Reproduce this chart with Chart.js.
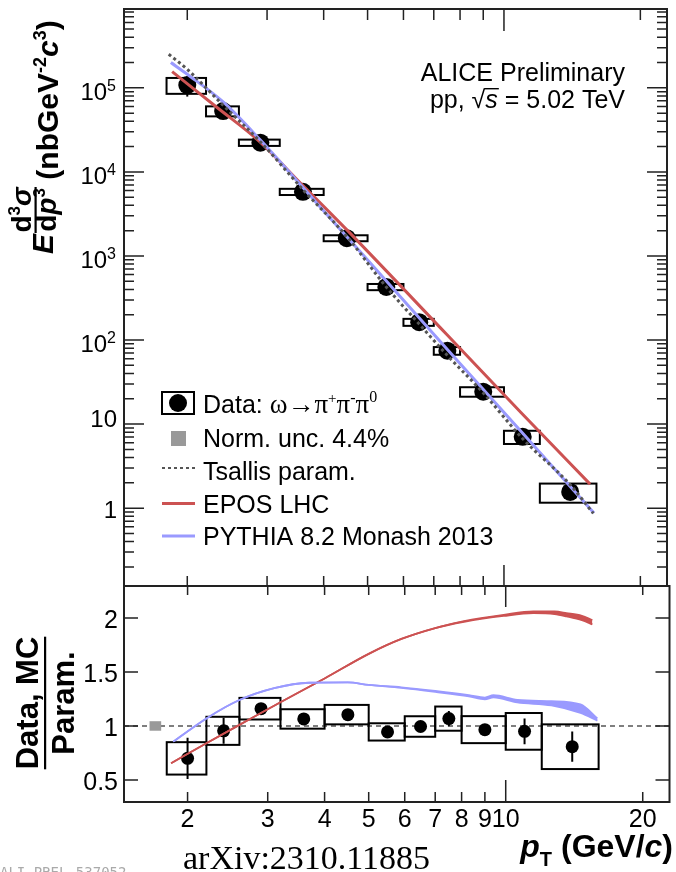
<!DOCTYPE html>
<html>
<head>
<meta charset="utf-8">
<title>omega pT spectrum, pp 5.02 TeV</title>
<script src="https://cdn.jsdelivr.net/npm/chart.js@4.4.1/dist/chart.umd.min.js"></script>
<style>
  html, body { margin: 0; padding: 0; background: #fff; }
  #wrap { position: relative; width: 676px; height: 872px; overflow: hidden; background: #fff; }
  #wrap canvas { position: absolute; left: 0; top: 0; }
</style>
</head>
<body>
<div id="wrap">
  <canvas id="spectrum" width="676" height="872"></canvas>
  <canvas id="ratio" width="676" height="872"></canvas>
</div>
<script>
// pT bins of the omega -> pi+ pi- pi0 measurement (GeV/c)
const binLo = [1.8, 2.2, 2.6, 3.2, 4.0, 5.0, 6.0, 7.0, 8.0, 10.0, 12.0];
const binHi = [2.2, 2.6, 3.2, 4.0, 5.0, 6.0, 7.0, 8.0, 10.0, 12.0, 16.0];
const ptCenter = [2.0, 2.4, 2.9, 3.6, 4.5, 5.5, 6.5, 7.5, 9.0, 11.0, 14.0];

// invariant cross section (nb GeV^-2 c^3)
const xsec = [1.08e5, 5.3e4, 2.23e4, 5.8e3, 1.63e3, 428, 163, 74.6, 24.3, 7.06, 1.56];

// data / Tsallis and its uncertainties (absolute, on the ratio)
const ratio = [0.70, 0.955, 1.16, 1.065, 1.105, 0.945, 0.995, 1.068, 0.966, 0.95, 0.808];
const ratioSys = [0.15, 0.13, 0.10, 0.09, 0.09, 0.08, 0.095, 0.112, 0.125, 0.17, 0.207];
const ratioStat = [0.19, 0.12, 0.05, 0.045, 0.045, 0.05, 0.05, 0.07, 0.05, 0.12, 0.14];
const normUnc = 0.044;

// Tsallis parametrisation
const tsallisPt = [1.82, 2.0, 2.4, 2.9, 3.6, 4.5, 5.5, 6.5, 7.5, 9.0, 11.0, 14.0, 15.75];
const tsallisVal = [2.51e5, 1.66e5, 6.2e4, 2.28e4, 6.15e3, 1.7e3, 427, 155, 65.6, 23.5, 6.69, 1.9, 0.865];

// generators, cross section
const eposPt = [1.852, 2.316, 2.873, 3.572, 4.518, 7.47, 10.9, 15.49];
const eposVal = [1.56e5, 5.96e4, 2.35e4, 7.18e3, 2.0e3, 117, 13.7, 1.93];
const pythiaPt = [1.84, 2.0, 2.4, 2.9, 3.6, 4.5, 5.5, 7.5, 11.0, 15.8];
const pythiaVal = [2.0e5, 1.45e5, 6.8e4, 2.39e4, 6.51e3, 1.69e3, 504, 77.1, 7.76, 0.873];

// generators / Tsallis (central value and half width of the MC band)
const eposRatioPt = [1.84, 2.2, 2.6, 3.2, 4.0, 5.0, 5.9, 7.0, 8.1, 9.9, 11.5, 12.8, 13.6, 14.7, 15.5];
const eposRatioMid = [0.655, 0.84, 1.01, 1.22, 1.44, 1.668, 1.806, 1.907, 1.968, 2.024, 2.052, 2.048, 2.03, 2.0, 1.96];
const eposRatioHalf = [0, 0, 0, 0, 0, 0, 0, 0, 0.003, 0.005, 0.008, 0.012, 0.015, 0.02, 0.02];
const pythiaRatioPt = [1.86, 2.2, 2.6, 3.1, 3.7, 4.5, 5.0, 5.9, 7.0, 8.3, 9.0, 9.4, 10.6, 12.6, 14.6, 15.9];
const pythiaRatioMid = [0.855, 1.07, 1.24, 1.35, 1.40, 1.403, 1.38, 1.355, 1.32, 1.28, 1.255, 1.275, 1.23, 1.21, 1.16, 1.06];
const pythiaRatioHalf = [0, 0, 0, 0, 0, 0, 0, 0.003, 0.005, 0.006, 0.008, 0.01, 0.012, 0.02, 0.04, 0.01];

// axes
const xTicks = [2, 3, 4, 5, 6, 7, 8, 9, 10, 20];
const xTickLabels = ['2', '3', '4', '5', '6', '7', '8', '9', '10', '20'];
const yDecades = [0, 1, 2, 3, 4, 5];
const ratioTicks = [0.5, 1, 1.5, 2];
const ratioTickLabels = ['0.5', '1', '1.5', '2'];

const SANS = '"Liberation Sans", Arial, sans-serif';
const SERIF = '"Liberation Serif", "Times New Roman", serif';
const RED = '#cc5252';
const BLUE = '#9a9aff';
const GREY = '#555';

const pts = (xs, ys) => xs.map((x, i) => ({ x, y: ys[i] }));

// draws a run of differently styled pieces: [text, font, dy]
function richText(ctx, parts, x, y, align) {
  let w = 0;
  for (const p of parts) { ctx.font = p[1]; w += ctx.measureText(p[0]).width; }
  let cx = align === 'right' ? x - w : align === 'center' ? x - w / 2 : x;
  ctx.textAlign = 'left';
  for (const p of parts) {
    ctx.font = p[1];
    ctx.fillText(p[0], cx, y + (p[2] || 0));
    cx += ctx.measureText(p[0]).width;
  }
  return w;
}

function drawFrame(chart, cfg) {
  const { ctx, chartArea: a, scales: { x, y } } = chart;
  ctx.save();
  ctx.strokeStyle = '#222';
  ctx.lineWidth = 1.5;
  ctx.beginPath();
  for (const t of xTicks) {
    const px = x.getPixelForValue(t);
    const big = t === 10;
    ctx.moveTo(px, a.top); ctx.lineTo(px, a.top + (big ? cfg.topLong : cfg.topShort));
    ctx.moveTo(px, a.bottom); ctx.lineTo(px, a.bottom - (big ? cfg.botLong : cfg.botShort));
  }
  for (const t of cfg.yMajor) {
    const py = y.getPixelForValue(t);
    ctx.moveTo(a.left, py); ctx.lineTo(a.left + cfg.yMajorLen, py);
    ctx.moveTo(a.right, py); ctx.lineTo(a.right - cfg.yMajorLen, py);
  }
  for (const t of cfg.yMinor) {
    const py = y.getPixelForValue(t);
    ctx.moveTo(a.left, py); ctx.lineTo(a.left + cfg.yMinorLen, py);
    ctx.moveTo(a.right, py); ctx.lineTo(a.right - cfg.yMinorLen, py);
  }
  ctx.stroke();
  ctx.lineWidth = 2;
  ctx.strokeRect(a.left, a.top, a.right - a.left, a.bottom - a.top);
  ctx.restore();
}

// syst boxes and stat bars, sizes relative to the value
function drawBoxes(chart, values, sysRel, statRel) {
  const { ctx, chartArea: a, scales: { x, y } } = chart;
  ctx.save();
  ctx.beginPath();
  ctx.rect(a.left, a.top, a.right - a.left, a.bottom - a.top);
  ctx.clip();
  ctx.strokeStyle = '#000';
  ctx.lineWidth = 2;
  for (let i = 0; i < ptCenter.length; i++) {
    const x0 = x.getPixelForValue(binLo[i]);
    const x1 = x.getPixelForValue(binHi[i]);
    const y0 = y.getPixelForValue(values[i] * (1 + sysRel[i]));
    const y1 = y.getPixelForValue(values[i] * (1 - sysRel[i]));
    ctx.strokeRect(x0, y0, x1 - x0, y1 - y0);
    const xc = x.getPixelForValue(ptCenter[i]);
    ctx.beginPath();
    ctx.moveTo(xc, y.getPixelForValue(values[i] * (1 + statRel[i])));
    ctx.lineTo(xc, y.getPixelForValue(values[i] * (1 - statRel[i])));
    ctx.stroke();
  }
  ctx.restore();
}

const sysRel = ratioSys.map((s, i) => s / ratio[i]);
const statRel = ratioStat.map((s, i) => s / ratio[i]);

// ---------- upper pad: cross section ----------
const yMinorSpec = [];
for (let k = -1; k <= 5; k++) {
  for (let m = 2; m <= 9; m++) {
    const v = m * Math.pow(10, k);
    if (v > 0.1185 && v < 8.67e5) yMinorSpec.push(v);
  }
}

const spectrumDecor = {
  id: 'spectrumDecor',
  beforeDatasetsDraw(chart) {
    drawBoxes(chart, xsec, sysRel, statRel);
  },
  afterDraw(chart) {
    const { ctx, scales: { y } } = chart;
    drawFrame(chart, {
      topShort: 11, topLong: 22, botShort: 10, botLong: 21,
      yMajor: yDecades.map(k => Math.pow(10, k)), yMajorLen: 20,
      yMinor: yMinorSpec, yMinorLen: 10
    });

    ctx.save();
    ctx.fillStyle = '#000';
    ctx.textBaseline = 'alphabetic';

    // decade labels
    for (const k of yDecades) {
      const py = y.getPixelForValue(Math.pow(10, k));
      if (k === 0) richText(ctx, [['1', '24px ' + SANS]], 117, py + 10, 'right');
      else if (k === 1) richText(ctx, [['10', '24px ' + SANS]], 117, py + 3, 'right');
      else richText(ctx, [['10', '24px ' + SANS], [String(k), '16px ' + SANS, -9]], 116, py + 12, 'right');
    }

    // y title, rotated
    ctx.save();
    ctx.rotate(-Math.PI / 2);
    richText(ctx, [['E', 'italic bold 30px ' + SANS]], -254, 53, 'left');
    richText(ctx, [['d', 'bold 28px ' + SANS], ['3', 'bold 17px ' + SANS, -11], ['\u03c3', 'italic bold 28px ' + SANS]], -210, 31, 'center');
    ctx.fillRect(-233, 34.5, 46, 2.2);
    richText(ctx, [['d', 'bold 28px ' + SANS], ['p', 'italic bold 28px ' + SANS], ['3', 'bold 17px ' + SANS, -11]], -210, 56, 'center');
    richText(ctx, [
      [' (nbGeV', 'bold 30px ' + SANS],
      ['-2', 'bold 18px ' + SANS, -12],
      ['c', 'italic bold 30px ' + SANS],
      ['3', 'bold 18px ' + SANS, -12],
      [')', 'bold 30px ' + SANS]
    ], -188, 58, 'left');
    ctx.restore();

    // header
    richText(ctx, [['ALICE Preliminary', '25px ' + SANS]], 625, 81, 'right');
    const hdr = [['pp, ', '25px ' + SANS], ['\u221a', '25px ' + SANS], ['s', 'italic 25px ' + SANS], [' = 5.02 TeV', '25px ' + SANS]];
    const w = richText(ctx, hdr, 625, 108, 'right');
    ctx.font = '25px ' + SANS;
    const sx = 625 - w + ctx.measureText('pp, \u221a').width - 1;
    ctx.font = 'italic 25px ' + SANS;
    const sw = ctx.measureText('s').width + 2;
    ctx.fillRect(sx, 88, sw, 1.4);

    // legend
    ctx.strokeStyle = '#000';
    ctx.lineWidth = 2;
    ctx.strokeRect(162, 392, 32, 22);
    ctx.beginPath(); ctx.arc(178, 403, 9, 0, Math.PI * 2); ctx.fill();
    richText(ctx, [
      ['Data: ', '25px ' + SANS],
      ['\u03c9\u2192\u03c0', '27px ' + SERIF],
      ['+', '15px ' + SERIF, -10],
      ['\u03c0', '27px ' + SERIF],
      ['-', '16px ' + SERIF, -10],
      ['\u03c0', '27px ' + SERIF],
      ['0', '16px ' + SERIF, -11]
    ], 203, 413, 'left');

    ctx.fillStyle = '#999';
    ctx.fillRect(171, 431, 15, 15);
    ctx.fillStyle = '#000';
    richText(ctx, [['Norm. unc. 4.4%', '25px ' + SANS]], 203, 447, 'left');

    ctx.lineWidth = 2;
    ctx.strokeStyle = GREY;
    ctx.setLineDash([3, 3]);
    ctx.beginPath(); ctx.moveTo(162, 468); ctx.lineTo(195, 468); ctx.stroke();
    ctx.setLineDash([]);
    richText(ctx, [['Tsallis param.', '25px ' + SANS]], 203, 480, 'left');

    ctx.lineWidth = 3;
    ctx.strokeStyle = RED;
    ctx.beginPath(); ctx.moveTo(162, 503.5); ctx.lineTo(195, 503.5); ctx.stroke();
    richText(ctx, [['EPOS LHC', '25px ' + SANS]], 203, 513, 'left');

    ctx.strokeStyle = BLUE;
    ctx.beginPath(); ctx.moveTo(162, 536); ctx.lineTo(195, 536); ctx.stroke();
    richText(ctx, [['PYTHIA 8.2 Monash 2013', '25px ' + SANS]], 203, 545, 'left');
    ctx.restore();
  }
};

new Chart(document.getElementById('spectrum'), {
  type: 'line',
  data: {
    datasets: [
      {
        label: 'Tsallis param.', data: pts(tsallisPt, tsallisVal),
        borderColor: GREY, borderWidth: 3, borderDash: [3, 3],
        pointRadius: 0, cubicInterpolationMode: 'monotone', fill: false
      },
      {
        label: 'PYTHIA 8.2 Monash 2013', data: pts(pythiaPt, pythiaVal),
        borderColor: BLUE, borderWidth: 3, pointRadius: 0,
        cubicInterpolationMode: 'monotone', fill: false
      },
      {
        label: 'EPOS LHC', data: pts(eposPt, eposVal),
        borderColor: RED, borderWidth: 3, pointRadius: 0,
        cubicInterpolationMode: 'monotone', fill: false
      },
      {
        label: 'Data', data: pts(ptCenter, xsec), showLine: false,
        pointRadius: 9, pointBackgroundColor: '#000', pointBorderWidth: 0
      }
    ]
  },
  options: {
    responsive: false,
    animation: false,
    devicePixelRatio: 1,
    layout: { padding: { left: 124, right: 3, top: 8, bottom: 286 } },
    scales: {
      x: { type: 'logarithmic', min: 1.45, max: 22.9, display: false },
      y: { type: 'logarithmic', min: 0.1185, max: 8.67e5, display: false }
    },
    plugins: { legend: { display: false }, tooltip: { enabled: false } }
  },
  plugins: [spectrumDecor]
});

// ---------- lower pad: ratios to the Tsallis parametrisation ----------
const ratioDecor = {
  id: 'ratioDecor',
  beforeDatasetsDraw(chart) {
    const { ctx, chartArea: a, scales: { x, y } } = chart;
    ctx.save();
    // Tsallis reference
    const y1 = y.getPixelForValue(1);
    ctx.strokeStyle = GREY;
    ctx.lineWidth = 1.5;
    ctx.setLineDash([5, 4]);
    ctx.beginPath(); ctx.moveTo(a.left, y1); ctx.lineTo(a.right, y1); ctx.stroke();
    ctx.setLineDash([]);
    // normalisation uncertainty
    const nx0 = x.getPixelForValue(1.65), nx1 = x.getPixelForValue(1.75);
    const ny0 = y.getPixelForValue(1 + normUnc), ny1 = y.getPixelForValue(1 - normUnc);
    ctx.fillStyle = '#999';
    ctx.fillRect(nx0, ny0, nx1 - nx0, ny1 - ny0);
    ctx.restore();
    drawBoxes(chart, ratio, sysRel, statRel);
  },
  afterDraw(chart) {
    const { ctx, scales: { x, y } } = chart;
    drawFrame(chart, {
      topShort: 9, topLong: 21, botShort: 10, botLong: 22,
      yMajor: ratioTicks, yMajorLen: 14, yMinor: [], yMinorLen: 0
    });
    ctx.save();
    ctx.fillStyle = '#000';
    ctx.textBaseline = 'alphabetic';
    ratioTicks.forEach((t, i) => {
      const py = y.getPixelForValue(t);
      richText(ctx, [[ratioTickLabels[i], '25px ' + SANS]], 118, py + 10, 'right');
    });
    xTicks.forEach((t, i) => {
      richText(ctx, [[xTickLabels[i], '25px ' + SANS]], x.getPixelForValue(t), 827, 'center');
    });

    // y title
    ctx.save();
    ctx.rotate(-Math.PI / 2);
    const nw = richText(ctx, [['Data, MC', 'bold 31px ' + SANS]], -703, 38, 'center');
    ctx.fillRect(-703 - nw / 2, 44, nw, 2.2);
    richText(ctx, [['Param.', 'bold 31px ' + SANS]], -703, 74, 'center');
    ctx.restore();

    // x title
    richText(ctx, [
      ['p', 'italic bold 32px ' + SANS],
      ['T', 'bold 20px ' + SANS, 9],
      [' (GeV/', 'bold 32px ' + SANS],
      ['c', 'italic bold 32px ' + SANS],
      [')', 'bold 32px ' + SANS]
    ], 673, 857, 'right');

    richText(ctx, [['arXiv:2310.11885', '34px ' + SERIF]], 183, 869, 'left');
    ctx.fillStyle = '#aaa';
    richText(ctx, [['ALI-PREL-537052', '14px "DejaVu Sans Mono", monospace']], 0, 877, 'left');
    ctx.restore();
  }
};

const bandLo = (mid, half) => mid.map((m, i) => m - half[i]);
const bandHi = (mid, half) => mid.map((m, i) => m + half[i]);

new Chart(document.getElementById('ratio'), {
  type: 'line',
  data: {
    datasets: [
      {
        label: 'PYTHIA hi', data: pts(pythiaRatioPt, bandHi(pythiaRatioMid, pythiaRatioHalf)),
        borderColor: BLUE, borderWidth: 1.8, pointRadius: 0,
        cubicInterpolationMode: 'monotone', fill: false
      },
      {
        label: 'PYTHIA lo', data: pts(pythiaRatioPt, bandLo(pythiaRatioMid, pythiaRatioHalf)),
        borderColor: BLUE, borderWidth: 1.8, pointRadius: 0, backgroundColor: BLUE,
        cubicInterpolationMode: 'monotone', fill: '-1'
      },
      {
        label: 'EPOS hi', data: pts(eposRatioPt, bandHi(eposRatioMid, eposRatioHalf)),
        borderColor: RED, borderWidth: 1.8, pointRadius: 0,
        cubicInterpolationMode: 'monotone', fill: false
      },
      {
        label: 'EPOS lo', data: pts(eposRatioPt, bandLo(eposRatioMid, eposRatioHalf)),
        borderColor: RED, borderWidth: 1.8, pointRadius: 0, backgroundColor: RED,
        cubicInterpolationMode: 'monotone', fill: '-1'
      },
      {
        label: 'Data / param.', data: pts(ptCenter, ratio), showLine: false,
        pointRadius: 6.5, pointBackgroundColor: '#000', pointBorderWidth: 0
      }
    ]
  },
  options: {
    responsive: false,
    animation: false,
    devicePixelRatio: 1,
    layout: { padding: { left: 124, right: 3, top: 586, bottom: 70 } },
    scales: {
      x: { type: 'logarithmic', min: 1.45, max: 22.9, display: false },
      y: { type: 'linear', min: 0.296, max: 2.296, display: false }
    },
    plugins: { legend: { display: false }, tooltip: { enabled: false } }
  },
  plugins: [ratioDecor]
});
</script>
</body>
</html>
